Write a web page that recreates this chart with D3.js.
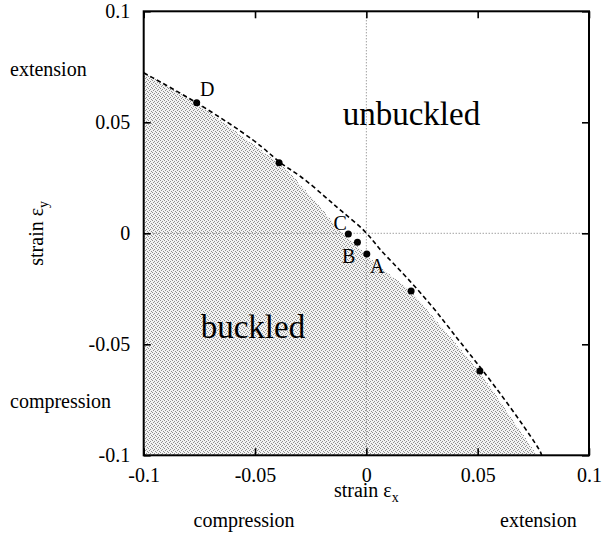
<!DOCTYPE html>
<html>
<head>
<meta charset="utf-8">
<script src="https://cdn.jsdelivr.net/npm/d3@7"></script>
<style>
  html, body { margin: 0; padding: 0; background: #fff; }
  svg { display: block; }
  text { font-family: "Liberation Serif", "Times New Roman", serif; fill: #000; }
</style>
</head>
<body>
<svg id="chart" width="602" height="538"></svg>
<script>
// ── Buckling map: strain εx vs strain εy ──────────────────────────────────────

// data
const xTicks = [-0.1, -0.05, 0, 0.05, 0.1];
const xTickLabels = ["-0.1", "-0.05", "0", "0.05", "0.1"];
const yTicks = [-0.1, -0.05, 0, 0.05, 0.1];
const yTickLabels = ["-0.1", "-0.05", "0", "0.05", "0.1"];

// dashed boundary curve
const curveX = [-0.1, -0.0762, -0.0478, -0.0395, -0.0298, -0.0178, -0.0118, 0.0002, 0.0054, 0.0137, 0.0294, 0.0413, 0.0511, 0.0646, 0.0781, 0.0787];
const curveY = [0.0723, 0.0592, 0.0405, 0.0318, 0.0263, 0.0158, 0.0105, 0.0007, -0.0068, -0.0150, -0.0323, -0.0481, -0.0601, -0.0781, -0.0976, -0.1];

// edge of the shaded (buckled) region
const shadeX = [-0.1, -0.0762, -0.0395, -0.0343, -0.0208, -0.0105, -0.0042, 0.0003, 0.0097, 0.0201, 0.0510, 0.0767];
const shadeY = [0.0723, 0.0588, 0.0317, 0.0272, 0.0119, -0.0003, -0.0053, -0.0102, -0.0179, -0.0260, -0.0625, -0.1];

// computed states (dots)
const pointX = [-0.0762, -0.0392, -0.0081, -0.0040, 0.0002, 0.0201, 0.0510];
const pointY = [0.0588, 0.0318, -0.0003, -0.0040, -0.0093, -0.0260, -0.0620];
const pointLabels = ["D", "", "C", "B", "A", "", ""];

// ── layout ───────────────────────────────────────────────────────────────────
const svg = d3.select("#chart");
const L = 143.7, R = 589, T = 11.3, B = 455.3;

const x = d3.scaleLinear().domain([-0.1, 0.1]).range([L, R]);
const y = d3.scaleLinear().domain([-0.1, 0.1]).range([B, T]);

// stipple texture for the buckled region
const defs = svg.append("defs");
const pat = defs.append("pattern")
  .attr("id", "stipple")
  .attr("patternUnits", "userSpaceOnUse")
  .attr("width", 4).attr("height", 4);
pat.append("rect").attr("width", 4).attr("height", 4).attr("fill", "#f3f3f3");
[[0, 0], [2, 1], [1, 2], [3, 3]].forEach(function ([px, py]) {
  pat.append("rect")
    .attr("x", px).attr("y", py).attr("width", 1).attr("height", 1)
    .attr("fill", "#8f8f8f");
});

defs.append("clipPath").attr("id", "plotClip")
  .append("rect").attr("x", L).attr("y", T).attr("width", R - L).attr("height", B - T);

const plot = svg.append("g").attr("clip-path", "url(#plotClip)");

// shaded region: boundary + lower-left corner
const shadePts = shadeX.map((v, i) => [v, shadeY[i]]);
shadePts.push([-0.1, -0.1]);
plot.append("path")
  .attr("d", d3.line().x(d => x(d[0])).y(d => y(d[1]))(shadePts) + "Z")
  .attr("fill", "url(#stipple)")
  .attr("shape-rendering", "crispEdges");

// zero lines (dotted)
plot.append("line")
  .attr("x1", x(0)).attr("x2", x(0)).attr("y1", T).attr("y2", B)
  .attr("stroke", "#777").attr("stroke-width", 1).attr("stroke-dasharray", "1,2");
plot.append("line")
  .attr("x1", L).attr("x2", R).attr("y1", y(0)).attr("y2", y(0))
  .attr("stroke", "#777").attr("stroke-width", 1).attr("stroke-dasharray", "1,2");

// dashed boundary
plot.append("path")
  .datum(curveX.map((v, i) => [v, curveY[i]]))
  .attr("d", d3.line().x(d => x(d[0])).y(d => y(d[1])).curve(d3.curveBasis))
  .attr("fill", "none")
  .attr("stroke", "#000")
  .attr("stroke-width", 1.6)
  .attr("stroke-dasharray", "4.5,3");

// dots + letters
const labelOffset = {
  D: { dx: 3.4, dy: -6.7, anchor: "start" },
  C: { dx: -1.5, dy: -4, anchor: "end" },
  B: { dx: -2, dy: 20.4, anchor: "end" },
  A: { dx: 3.3, dy: 19.3, anchor: "start" },
};
pointX.forEach(function (v, i) {
  svg.append("circle")
    .attr("cx", x(v)).attr("cy", y(pointY[i])).attr("r", 3.5)
    .attr("fill", "#000");
  const lab = pointLabels[i];
  if (!lab) return;
  const o = labelOffset[lab];
  svg.append("text")
    .attr("x", x(v) + o.dx).attr("y", y(pointY[i]) + o.dy)
    .attr("text-anchor", o.anchor)
    .attr("font-size", 20)
    .text(lab);
});

// ── axes (inward ticks on all four sides) ────────────────────────────────────
function styleAxis(g) {
  g.select(".domain").remove();
  g.selectAll(".tick line").attr("stroke", "#000").attr("stroke-width", 1.6);
  g.selectAll(".tick text")
    .attr("font-family", "'Liberation Serif', 'Times New Roman', serif")
    .attr("font-size", 20).attr("fill", "#000");
}

svg.append("g")
  .attr("transform", `translate(0,${B})`)
  .call(d3.axisBottom(x).tickValues(xTicks)
    .tickFormat((d, i) => xTickLabels[i]).tickSize(-7).tickPadding(13))
  .call(styleAxis);

svg.append("g")
  .attr("transform", `translate(0,${T})`)
  .call(d3.axisTop(x).tickValues(xTicks).tickFormat("").tickSize(-7))
  .call(styleAxis);

svg.append("g")
  .attr("transform", `translate(${L},0)`)
  .call(d3.axisLeft(y).tickValues(yTicks)
    .tickFormat((d, i) => yTickLabels[i]).tickSize(-7).tickPadding(13.5))
  .call(styleAxis);

svg.append("g")
  .attr("transform", `translate(${R},0)`)
  .call(d3.axisRight(y).tickValues(yTicks).tickFormat("").tickSize(-7))
  .call(styleAxis);

// frame
svg.append("rect")
  .attr("x", L).attr("y", T).attr("width", R - L).attr("height", B - T)
  .attr("fill", "none").attr("stroke", "#000").attr("stroke-width", 2);

// ── texts ────────────────────────────────────────────────────────────────────
const xl = svg.append("text")
  .attr("x", x(0)).attr("y", 497)
  .attr("text-anchor", "middle").attr("font-size", 20);
xl.append("tspan").text("strain ε");
xl.append("tspan").attr("font-size", 14).attr("dy", 5).text("x");

const yl = svg.append("text")
  .attr("transform", `translate(42.5,${y(0)}) rotate(-90)`)
  .attr("text-anchor", "middle").attr("font-size", 20);
yl.append("tspan").text("strain ε");
yl.append("tspan").attr("font-size", 14).attr("dy", 5).text("y");

svg.append("text").attr("x", 10).attr("y", 76).attr("font-size", 20).text("extension");
svg.append("text").attr("x", 10).attr("y", 408).attr("font-size", 20).text("compression");
svg.append("text").attr("x", 193.5).attr("y", 527).attr("font-size", 20).text("compression");
svg.append("text").attr("x", 500).attr("y", 527).attr("font-size", 20).text("extension");

svg.append("text").attr("x", 342.7).attr("y", 125).attr("font-size", 33).text("unbuckled");
svg.append("text").attr("x", 200.7).attr("y", 337.7).attr("font-size", 33).text("buckled");
</script>
</body>
</html>
